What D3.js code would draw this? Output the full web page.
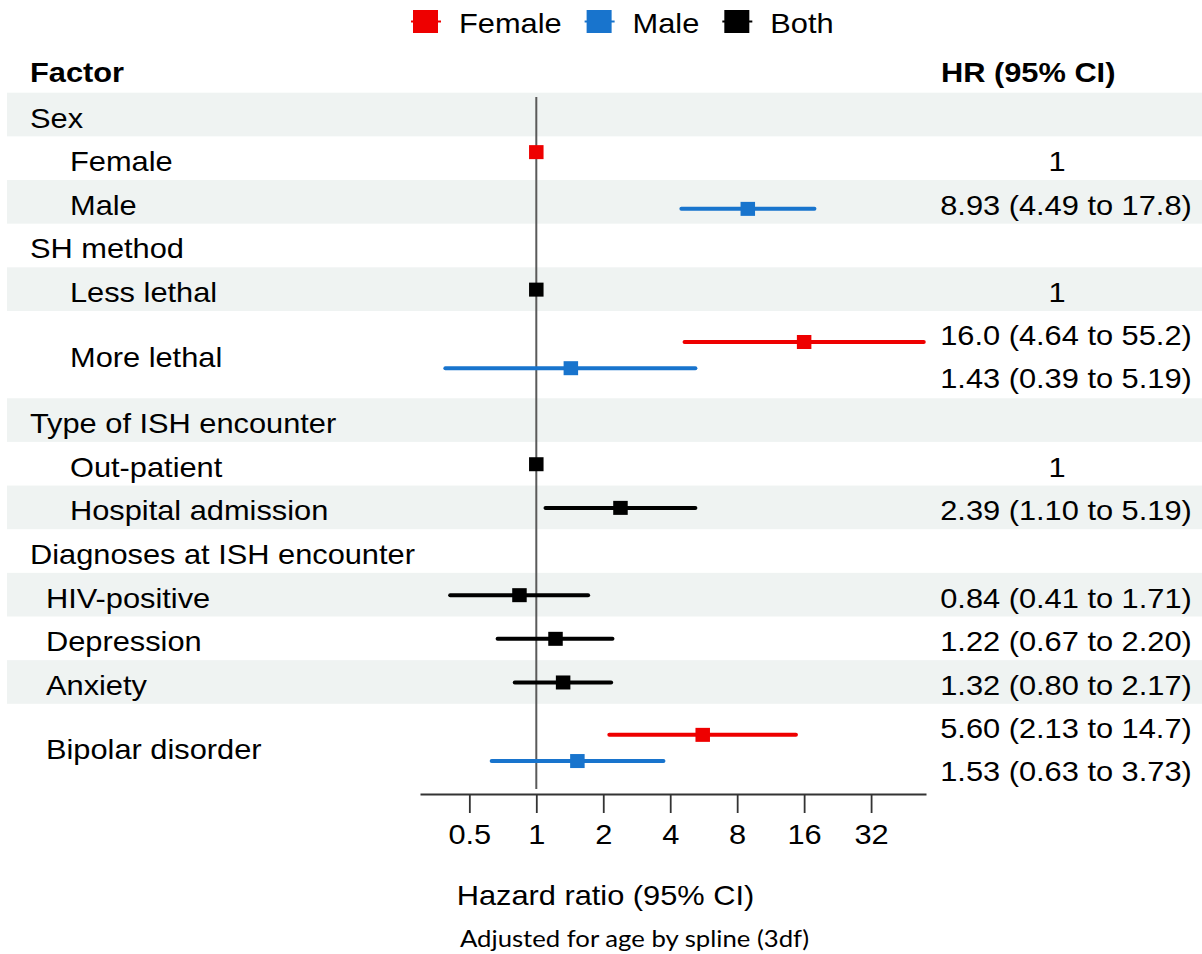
<!DOCTYPE html>
<html>
<head>
<meta charset="utf-8">
<script src="https://cdn.jsdelivr.net/npm/d3@7"></script>
<style>
  html, body { margin: 0; padding: 0; background: #fff; }
  svg { display: block; font-family: "Liberation Sans", Arial, sans-serif; }
</style>
</head>
<body>
<svg id="chart" width="1202" height="954"></svg>
<script>
// =========================
// DATA
// =========================
const rowLabels = [
  "Sex", "Female", "Male",
  "SH method", "Less lethal", "More lethal",
  "Type of ISH encounter", "Out-patient", "Hospital admission",
  "Diagnoses at ISH encounter", "HIV-positive", "Depression", "Anxiety", "Bipolar disorder"
];
const rowLevel = [0, 2, 2, 0, 2, 2, 0, 2, 2, 0, 1, 1, 1, 1];
const rowSpan  = [1, 1, 1, 1, 1, 2, 1, 1, 1, 1, 1, 1, 1, 2];

const femaleHR = [null, 1, null, null, null, 16.0, null, null, null, null, null, null, null, 5.60];
const femaleLo = [null, null, null, null, null, 4.64, null, null, null, null, null, null, null, 2.13];
const femaleHi = [null, null, null, null, null, 55.2, null, null, null, null, null, null, null, 14.7];

const maleHR = [null, null, 8.93, null, null, 1.43, null, null, null, null, null, null, null, 1.53];
const maleLo = [null, null, 4.49, null, null, 0.39, null, null, null, null, null, null, null, 0.63];
const maleHi = [null, null, 17.8, null, null, 5.19, null, null, null, null, null, null, null, 3.73];

const bothHR = [null, null, null, null, 1, null, null, 1, 2.39, null, 0.84, 1.22, 1.32, null];
const bothLo = [null, null, null, null, null, null, null, null, 1.10, null, 0.41, 0.67, 0.80, null];
const bothHi = [null, null, null, null, null, null, null, null, 5.19, null, 1.71, 2.20, 2.17, null];

const seriesNames = ["Female", "Male", "Both"];
const tickValues = [0.5, 1, 2, 4, 8, 16, 32];
const xLimits = [0.3, 56.5];

// =========================
// LOOK
// =========================
const K = 1.08;          // horizontal stretch of the original picture
const FS = 28.5;
const colors = { Female: "#EE0000", Male: "#1874CD", Both: "#000000" };
const nudge = { Female: -0.15, Male: 0.15, Both: 0 };
const stripe = "#eff3f2";

const svg = d3.select("#chart");

const x = d3.scaleLog().base(2).domain(xLimits).range([420, 926]);
const totalUnits = d3.sum(rowSpan);
const yU = d3.scaleLinear().domain([0, totalUnits]).range([92.7, 791.1]);

const fmt = v => (v >= 10 ? v.toFixed(1) : v.toFixed(2));

function txt(g, px, py, s, anchor = "start", weight = "normal") {
  return g.append("text")
    .attr("transform", `translate(${px},${py}) scale(${K},1)`)
    .attr("text-anchor", anchor)
    .attr("font-size", FS)
    .attr("font-weight", weight)
    .attr("fill", "#000")
    .text(s);
}

// =========================
// ROWS
// =========================
let acc = 0;
const rows = rowLabels.map((label, i) => {
  const r = { i, label, top: yU(acc), bottom: yU(acc + rowSpan[i]), span: rowSpan[i] };
  r.h = r.bottom - r.top;
  r.mid = (r.top + r.bottom) / 2;
  acc += rowSpan[i];
  return r;
});

svg.append("g").selectAll("rect")
  .data(rows.filter(r => r.i % 2 === 0))
  .join("rect")
  .attr("x", 7)
  .attr("width", 1202 - 7)
  .attr("y", d => d.top)
  .attr("height", d => d.h)
  .attr("fill", stripe);

// headers
txt(svg, 30, 82, "Factor", "start", "bold");
txt(svg, 941, 82, "HR (95% CI)", "start", "bold");

// labels
const indent = [30, 46, 70];
const labG = svg.append("g");
rows.forEach(r => {
  const by = r.span === 1 ? r.mid + 13 : r.mid + 12;
  txt(labG, indent[rowLevel[r.i]], by, r.label);
});

// =========================
// ESTIMATES
// =========================
const est = [];
rows.forEach(r => {
  [["Female", femaleHR, femaleLo, femaleHi],
   ["Male", maleHR, maleLo, maleHi],
   ["Both", bothHR, bothLo, bothHi]].forEach(([name, hr, lo, hi]) => {
    if (hr[r.i] == null) return;
    est.push({
      row: r, name, hr: hr[r.i], lo: lo[r.i], hi: hi[r.i],
      y: r.mid + 0.5 + nudge[name] * r.h
    });
  });
});

// reference line
svg.append("line")
  .attr("x1", x(1)).attr("x2", x(1))
  .attr("y1", 97).attr("y2", 789)
  .attr("stroke", "#5a5a5a")
  .attr("stroke-width", 2);

const ciG = svg.append("g");
ciG.selectAll("line")
  .data(est.filter(d => d.lo != null))
  .join("line")
  .attr("x1", d => x(d.lo))
  .attr("x2", d => x(Math.min(d.hi, xLimits[1])))
  .attr("y1", d => d.y)
  .attr("y2", d => d.y)
  .attr("stroke", d => colors[d.name])
  .attr("stroke-width", 4)
  .attr("stroke-linecap", "round");

ciG.selectAll("rect")
  .data(est)
  .join("rect")
  .attr("x", d => x(d.hr) - 7.25)
  .attr("y", d => d.y - 7)
  .attr("width", 14.5)
  .attr("height", 14)
  .attr("fill", d => colors[d.name]);

// HR text column
const valG = svg.append("g");
rows.forEach(r => {
  const items = est.filter(d => d.row === r);
  items.forEach((d, k) => {
    const s = d.lo == null ? fmt(d.hr).replace(/\.00$/, "") : `${fmt(d.hr)} (${fmt(d.lo)} to ${fmt(d.hi)})`;
    let by = r.mid + 13;
    if (items.length === 2) by = k === 0 ? r.mid - 9.5 : r.mid + 33.5;
    txt(valG, d.lo == null ? 1057 : 1066, by, s, "middle");
  });
});

// =========================
// AXIS
// =========================
const axis = d3.axisBottom(x)
  .tickValues(tickValues)
  .tickFormat(d3.format(""))
  .tickSize(19)
  .tickSizeOuter(0)
  .tickPadding(10.5);

const axG = svg.append("g")
  .attr("transform", "translate(0,794)")
  .call(axis);

axG.select(".domain").attr("stroke", "#333").attr("stroke-width", 1.8);
axG.selectAll(".tick line").attr("stroke", "#333").attr("stroke-width", 1.8);
axG.selectAll(".tick text")
  .attr("font-size", FS)
  .attr("font-family", '"Liberation Sans", Arial, sans-serif')
  .attr("fill", "#000")
  .attr("transform", `scale(${K},1)`);

txt(svg, 605.5, 905, "Hazard ratio (95% CI)", "middle");

svg.append("text")
  .attr("x", 634.5)
  .attr("y", 947)
  .attr("text-anchor", "middle")
  .attr("font-family", "Lato, Inter, sans-serif")
  .attr("font-size", 23.5)
  .attr("textLength", 349)
  .attr("lengthAdjust", "spacingAndGlyphs")
  .text("Adjusted for age by spline (3df)");

// =========================
// LEGEND
// =========================
const legG = svg.append("g");
let lx = 413;
seriesNames.forEach(name => {
  legG.append("line")
    .attr("x1", lx - 2).attr("x2", lx + 28)
    .attr("y1", 21.5).attr("y2", 21.5)
    .attr("stroke", colors[name]).attr("stroke-width", 2);
  legG.append("rect")
    .attr("x", lx).attr("y", 10)
    .attr("width", 25).attr("height", 23)
    .attr("fill", colors[name]);
  const t = txt(legG, lx + 46, 32.7, name);
  lx += 46 + t.node().getComputedTextLength() * K + 25;
});
</script>
</body>
</html>
